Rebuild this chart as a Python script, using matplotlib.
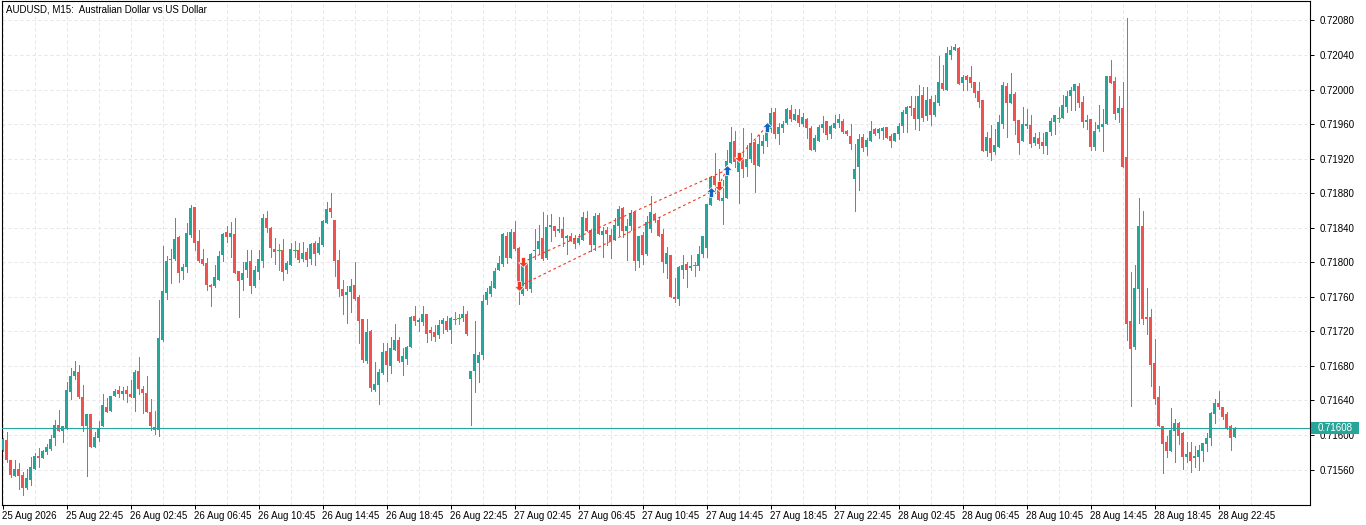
import matplotlib
matplotlib.use("Agg")
import matplotlib.pyplot as plt
import numpy as np
from matplotlib.path import Path
from matplotlib.patches import Rectangle

plt.rcParams['font.family'] = ['Liberation Sans', 'DejaVu Sans']

# ---------------- data (prices in points, price = points / 100000) ----------------
open_pts = [
71583,71594,71571,71553,71561,71554,71539,71548,71561,71576,71573,71580,71584,71596,71612,71605,
71607,71650,71668,71673,71644,71610,71624,71586,71596,71610,71632,71628,71645,71652,71647,71652,
71647,71643,71674,71653,71649,71627,71609,71606,71710,71764,71803,71804,71829,71790,71795,71832,
71864,71825,71804,71799,71774,71773,71779,71808,71835,71829,71833,71790,71779,71791,71801,71772,
71789,71802,71851,71840,71815,71814,71814,71791,71797,71814,71814,71804,71812,71804,71822,71811,
71820,71846,71863,71849,71803,71769,71762,71766,71774,71760,71734,71686,71720,71652,71658,71672,
71697,71680,71699,71710,71685,71688,71702,71738,71731,71731,71740,71722,71719,71716,71728,71732,
71722,71734,71735,71735,71740,71665,71674,71683,71693,71756,71763,71770,71791,71798,71830,71805,
71835,71817,71763,71797,71769,71813,71815,71828,71805,71841,71842,71836,71839,71828,71830,71828,
71822,71826,71851,71837,71820,71855,71832,71837,71832,71826,71842,71863,71836,71842,71858,71801,
71832,71810,71838,71856,71849,71833,71798,71808,71760,71757,71791,71798,71793,71797,71796,71810,
71817,71866,71900,71892,71871,71874,71915,71940,71905,71922,71910,71920,71939,71912,71935,71940,
71954,71974,71949,71956,71961,71976,71965,71971,71960,71966,71956,71930,71941,71956,71964,71948,
71956,71961,71964,71952,71946,71896,71910,71945,71933,71940,71954,71950,71952,71957,71946,71940,
71948,71958,71972,71981,71979,71966,71994,71969,71989,71971,71984,72008,72000,72040,72046,72048,
72008,72016,72015,72009,71998,71988,71929,71944,71928,71934,71960,72004,71985,71995,71965,71940,
71958,71959,71938,71944,71939,71935,71951,71962,71967,71967,71980,71993,71998,72004,71986,71963,
71966,71934,71954,71957,71960,72016,72010,71973,71979,71922,71732,71702,71769,71842,71737,71737,
71683,71644,71610,71592,71582,71605,71614,71602,71575,71580,71573,71575,71581,71590,71596,71624,
71637,71633,71624,71611,71598]
high_pts = [
71597,71603,71571,71571,71568,71557,71561,71575,71579,71585,71583,71589,71600,71617,71629,71611,
71661,71678,71686,71681,71658,71624,71624,71603,71616,71647,71643,71645,71653,71657,71656,71657,
71664,71675,71690,71657,71668,71642,71628,71756,71819,71807,71815,71851,71830,71798,71845,71866,
71864,71837,71815,71805,71775,71797,71813,71834,71842,71847,71851,71790,71800,71814,71814,71796,
71814,71856,71859,71841,71828,71821,71827,71801,71822,71825,71822,71823,71817,71822,71825,71829,
71849,71870,71880,71849,71814,71779,71773,71781,71800,71762,71734,71734,71722,71685,71676,71707,
71707,71713,71729,71713,71701,71703,71738,71749,71735,71749,71740,71725,71727,71733,71735,71738,
71737,71742,71740,71749,71744,71674,71732,71696,71762,71770,71778,71793,71807,71834,71835,71839,
71848,71818,71801,71800,71811,71839,71843,71858,71855,71856,71842,71852,71852,71832,71834,71832,
71833,71858,71859,71839,71857,71857,71841,71841,71839,71851,71865,71864,71850,71861,71858,71830,
71835,71854,71877,71857,71852,71839,71818,71808,71782,71796,71809,71800,71809,71800,71819,71830,
71867,71900,71927,71908,71895,71930,71957,71952,71928,71955,71936,71950,71942,71947,71947,71961,
71979,71979,71961,71964,71979,71982,71978,71978,71973,71967,71958,71947,71959,71969,71964,71959,
71971,71972,71966,71953,71960,71937,71949,71949,71944,71964,71955,71955,71957,71957,71949,71950,
71961,71976,71981,71993,71992,72005,72003,72003,71993,71994,72039,72028,72049,72050,72053,72049,
72017,72017,72027,72009,72009,71988,71951,71959,71954,71971,72009,72008,72019,71997,71965,71980,
71978,71971,71950,71951,71950,71951,71967,71971,71980,71994,71998,72003,72007,72008,71992,71971,
71966,71963,71982,71978,72016,72034,72015,71993,72009,72083,71789,71797,71874,71859,71770,71746,
71711,71657,71610,71599,71631,71619,71615,71603,71592,71592,71587,71588,71591,71602,71627,71642,
71651,71633,71627,71612,71609]
low_pts = [
71581,71569,71551,71552,71537,71531,71538,71542,71561,71563,71573,71578,71583,71588,71605,71592,
71607,71642,71665,71643,71605,71553,71586,71586,71593,71610,71627,71628,71645,71644,71642,71638,
71644,71628,71647,71625,71627,71606,71601,71599,71709,71757,71776,71803,71777,71781,71789,71829,
71814,71800,71797,71768,71749,71771,71779,71801,71824,71806,71788,71737,71768,71783,71765,71771,
71781,71795,71835,71806,71798,71791,71779,71788,71797,71806,71800,71802,71796,71798,71797,71810,
71819,71846,71852,71784,71761,71740,71730,71742,71756,71707,71684,71683,71651,71651,71636,71671,
71663,71672,71698,71684,71670,71682,71702,71727,71720,71727,71708,71710,71709,71712,71718,71720,
71707,71729,71728,71732,71716,71612,71650,71661,71688,71752,71761,71770,71791,71796,71799,71805,
71814,71752,71762,71768,71766,71804,71810,71803,71804,71825,71830,71835,71819,71810,71825,71817,
71821,71826,71836,71813,71814,71833,71806,71820,71805,71826,71832,71829,71803,71837,71791,71794,
71798,71809,71835,71847,71830,71789,71782,71760,71754,71751,71782,71771,71791,71784,71791,71806,
71806,71866,71880,71872,71844,71874,71915,71910,71869,71899,71900,71916,71881,71911,71927,71935,
71951,71944,71937,71951,71960,71964,71965,71958,71958,71944,71930,71929,71941,71951,71943,71944,
71955,71957,71950,71947,71931,71859,71884,71929,71924,71940,71947,71944,71943,71944,71933,71940,
71943,71951,71951,71970,71954,71953,71964,71965,71959,71969,71982,72000,72000,72035,72046,72006,
71999,72000,72003,71991,71980,71929,71923,71918,71925,71934,71956,71945,71984,71949,71925,71940,
71956,71934,71936,71932,71926,71925,71947,71949,71963,71967,71974,71976,71976,71980,71957,71954,
71930,71930,71952,71929,71960,72008,71966,71963,71910,71710,71634,71700,71730,71728,71717,71657,
71636,71610,71556,71574,71582,71569,71590,71561,71569,71557,71563,71560,71570,71582,71588,71614,
71630,71619,71607,71583,71598]
close_pts = [
71595,71571,71554,71561,71553,71539,71550,71563,71576,71573,71581,71586,71595,71612,71605,71610,
71652,71668,71674,71644,71610,71624,71586,71598,71608,71635,71627,71645,71651,71648,71651,71647,
71644,71673,71653,71649,71627,71610,71606,71712,71767,71801,71804,71827,71788,71795,71834,71863,
71822,71801,71798,71774,71771,71783,71807,71833,71829,71834,71788,71778,71788,71800,71772,71791,
71804,71851,71840,71816,71812,71814,71789,71799,71815,71814,71803,71811,71803,71821,71810,71822,
71848,71862,71858,71801,71769,71761,71766,71773,71758,71732,71687,71719,71654,71659,71673,71696,
71681,71701,71710,71686,71692,71702,71737,71732,71733,71740,71717,71718,71714,71727,71733,71722,
71735,71734,71735,71740,71717,71674,71694,71693,71755,71766,71773,71790,71799,71833,71805,71835,
71815,71768,71798,71769,71810,71814,71825,71804,71841,71843,71836,71839,71828,71830,71825,71821,
71828,71852,71836,71820,71854,71833,71836,71833,71825,71843,71862,71836,71842,71857,71802,71830,
71809,71847,71858,71849,71831,71800,71811,71760,71758,71794,71797,71791,71796,71797,71810,71830,
71867,71899,71890,71872,71874,71917,71939,71916,71926,71908,71920,71938,71913,71937,71940,71953,
71973,71948,71957,71960,71978,71966,71972,71961,71968,71955,71930,71944,71957,71960,71947,71958,
71961,71966,71951,71948,71937,71908,71943,71932,71942,71952,71949,71954,71956,71944,71940,71950,
71958,71974,71980,71979,71966,71993,71967,71988,71971,71986,72009,72001,72042,72046,72049,72007,
72015,72011,72008,71996,71986,71929,71945,71927,71936,71962,72005,71985,71995,71964,71938,71960,
71960,71937,71945,71937,71935,71951,71964,71971,71967,71982,71993,71999,72006,71985,71963,71965,
71934,71952,71959,71960,72016,72008,71972,71979,71910,71728,71700,71770,71842,71734,71734,71681,
71642,71611,71590,71582,71606,71614,71599,71575,71578,71570,71576,71583,71591,71596,71626,71637,
71632,71621,71607,71596,71608]

time_labels = ["25 Aug 2026", "25 Aug 22:45", "26 Aug 02:45", "26 Aug 06:45", "26 Aug 10:45",
               "26 Aug 14:45", "26 Aug 18:45", "26 Aug 22:45", "27 Aug 02:45", "27 Aug 06:45",
               "27 Aug 10:45", "27 Aug 14:45", "27 Aug 18:45", "27 Aug 22:45", "28 Aug 02:45",
               "28 Aug 06:45", "28 Aug 10:45", "28 Aug 14:45", "28 Aug 18:45", "28 Aug 22:45"]
price_ticks = [0.71560, 0.71600, 0.71640, 0.71680, 0.71720, 0.71760, 0.71800, 0.71840,
               0.71880, 0.71920, 0.71960, 0.72000, 0.72040, 0.72080]

# trade history (sell entries -> buy exits)
trade_open_bar = [129, 130, 179, 184]
trade_open_pts = [71772, 71800, 71888, 71922]
trade_close_bar = [177, 181, 181, 191]
trade_close_pts = [71881, 71907, 71907, 71957]

symbol_title = "AUDUSD, M15:  Australian Dollar vs US Dollar"

# ---------------- styling ----------------
TEAL = "#26a69a"
RED = "#ef5350"
DOJI = "#4caf50"
GRID = "#e4e4ea"
TRADE_RED = "#ee3b1f"
BUY_BLUE = "#1565c0"

o = np.array(open_pts) / 1e5
h = np.array(high_pts) / 1e5
l = np.array(low_pts) / 1e5
c = np.array(close_pts) / 1e5
n = len(c)
x = np.arange(n)
bars_per_label = 16

W, H = 1366, 525
fig = plt.figure(figsize=(W / 100, H / 100), dpi=100)
fig.patch.set_facecolor("white")
L_px, R_px, T_px, B_px = 2, 1310, 1, 505
ax = fig.add_axes([L_px / W, 1 - B_px / H, (R_px - L_px) / W, (B_px - T_px) / H])
ax.set_facecolor("white")

# 4 px per bar, bar centres on pixel centres
ax.set_xlim(-0.125, (R_px - L_px) / 4 - 0.125)
ax.set_ylim(0.7151894, 0.7210257)

# grid / ticks
ax.set_yticks(price_ticks)
ax.set_yticklabels([f"{p:.5f}" for p in price_ticks])
ax.set_xticks(np.arange(len(time_labels)) * bars_per_label)
ax.set_xticklabels(time_labels, ha="left")
ax.set_xticks(np.arange(8, ax.get_xlim()[1], 16), minor=True)
ax.grid(True, which="both", color=GRID, linestyle=(0, (3, 3)), linewidth=0.72)
ax.set_axisbelow(True)

ax.yaxis.tick_right()
ax.tick_params(axis="y", which="major", length=3, width=0.72, pad=4, labelsize=7, colors="black")
ax.tick_params(axis="x", which="major", length=3, width=0.72, pad=1.5, labelsize=7, colors="black")
ax.tick_params(axis="x", which="minor", length=0)
for s in ax.spines.values():
    s.set_color("black")
    s.set_linewidth(0.8)

# candles
up = c > o
dn = c < o
eq = c == o
body_w = 0.75
wick_lw = 0.72
ax.vlines(x[up], l[up], h[up], color=TEAL, linewidth=wick_lw, antialiased=False, zorder=3)
ax.vlines(x[dn], l[dn], h[dn], color=RED, linewidth=wick_lw, antialiased=False, zorder=3)
ax.vlines(x[eq], l[eq], h[eq], color=DOJI, linewidth=wick_lw, antialiased=False, zorder=3)
ax.bar(x[up], c[up] - o[up], bottom=o[up], width=body_w, color=TEAL, linewidth=0, zorder=3, antialiased=False)
ax.bar(x[dn], o[dn] - c[dn], bottom=c[dn], width=body_w, color=RED, linewidth=0, zorder=3, antialiased=False)
ax.hlines(c[eq], x[eq] - body_w / 2, x[eq] + body_w / 2, color=DOJI, linewidth=wick_lw,
          antialiased=False, zorder=3)

# current price line
last = c[-1]
ax.axhline(last, color=TEAL, linewidth=0.8, zorder=4)

# trade history lines and arrows
up_arrow = Path([(0, 1.0), (1.0, 0.05), (0.42, 0.05), (0.42, -1.0), (-0.42, -1.0), (-0.42, 0.05), (-1.0, 0.05), (0, 1.0)])
down_arrow = Path([(0, -1.0), (1.0, -0.05), (0.42, -0.05), (0.42, 1.0), (-0.42, 1.0), (-0.42, -0.05), (-1.0, -0.05), (0, -1.0)])
for b0, p0, b1, p1 in zip(trade_open_bar, trade_open_pts, trade_close_bar, trade_close_pts):
    ax.plot([b0, b1], [p0 / 1e5, p1 / 1e5], color=TRADE_RED, linewidth=0.8,
            linestyle=(0, (2.5, 2.5)), zorder=5)
ax.plot(trade_open_bar, np.array(trade_open_pts) / 1e5, linestyle="none", marker=down_arrow,
        markersize=7, markerfacecolor=TRADE_RED, markeredgecolor="white", markeredgewidth=0.5, zorder=6)
ax.plot(trade_close_bar, np.array(trade_close_pts) / 1e5, linestyle="none", marker=up_arrow,
        markersize=7, markerfacecolor=BUY_BLUE, markeredgecolor="white", markeredgewidth=0.5, zorder=6)

# price label on the right axis
fig.canvas.draw()
y_disp = ax.transData.transform((0, last))[1]
box_h = 12
fig.patches.append(Rectangle(((R_px + 1) / W, (y_disp - box_h / 2) / H), 48 / W, box_h / H,
                             transform=fig.transFigure, facecolor=TEAL, edgecolor="none", zorder=10))
fig.text((R_px + 8) / W, y_disp / H, f"{last:.5f}", color="white", fontsize=7,
         ha="left", va="center", zorder=11)

# header
fig.text(6 / W, 1 - 9 / H, symbol_title, fontsize=7, ha="left", va="center", color="black")

fig.savefig("out.png", dpi=100, facecolor="white")
